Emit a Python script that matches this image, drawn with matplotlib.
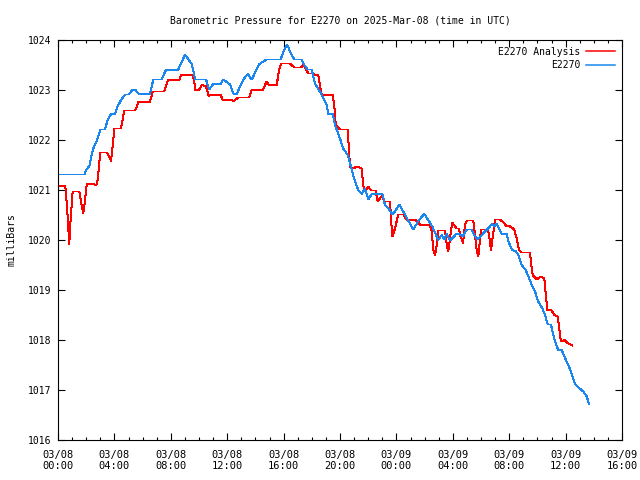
import matplotlib
matplotlib.use('Agg')
import numpy as np
from matplotlib import pyplot as plt
from matplotlib.ticker import MultipleLocator

## Data - hours since 2025-03-08 00:00 UTC, pressure in mbar
analysis_hours = [0.05, 0.52, 0.64, 0.71, 0.80, 0.90, 1.04, 1.51, 1.65, 1.79, 1.89, 2.04, 2.53, 2.70, 2.82,
                  2.89, 3.00, 3.45, 3.64, 3.76, 3.88, 3.99, 4.47, 4.70, 5.48, 5.70, 6.52, 6.72, 7.54, 7.78,
                  8.01, 8.60, 8.72, 9.55, 9.65, 9.74, 10.02, 10.21, 10.50, 10.69, 10.78, 11.54, 11.68, 12.32,
                  12.43, 12.79, 13.55, 13.74, 14.52, 14.80, 14.96, 15.51, 15.70, 15.82, 16.10, 16.45, 16.76,
                  17.23, 17.40, 17.57, 17.75, 18.11, 18.18, 18.46, 18.58, 18.70, 19.48, 19.60, 19.70, 20.00,
                  20.55, 20.59, 20.71, 20.87, 21.26, 21.54, 21.65, 21.82, 22.01, 22.20, 22.53, 22.67, 22.96,
                  23.14, 23.55, 23.62, 23.71, 23.90, 24.13, 24.49, 24.73, 25.32, 25.55, 25.67, 26.38, 26.50,
                  26.62, 26.74, 26.86, 26.97, 27.45, 27.57, 27.68, 27.80, 27.96, 28.16, 28.28, 28.44, 28.53,
                  28.63, 28.72, 28.87, 28.99, 29.45, 29.57, 29.69, 29.81, 29.93, 30.00, 30.48, 30.57, 30.71,
                  30.80, 30.90, 30.99, 31.35, 31.58, 31.82, 32.06, 32.36, 32.53, 32.70, 32.89, 33.48, 33.55,
                  33.67, 33.95, 34.26, 34.49, 34.59, 34.70, 35.01, 35.20, 35.44, 35.53, 35.67, 35.91, 36.19,
                  36.47]
analysis_mbar = [1021.08, 1021.08, 1020.67, 1020.35, 1019.92, 1020.43, 1020.97, 1020.97, 1020.73, 1020.53,
                 1020.73, 1021.12, 1021.12, 1021.09, 1021.20, 1021.43, 1021.75, 1021.75, 1021.67, 1021.58,
                 1021.88, 1022.23, 1022.23, 1022.59, 1022.59, 1022.76, 1022.76, 1022.97, 1022.97, 1023.19,
                 1023.21, 1023.20, 1023.30, 1023.30, 1023.20, 1022.99, 1023.01, 1023.10, 1023.07, 1022.87,
                 1022.90, 1022.90, 1022.80, 1022.80, 1022.77, 1022.85, 1022.85, 1023.00, 1023.00, 1023.17,
                 1023.10, 1023.10, 1023.43, 1023.53, 1023.53, 1023.53, 1023.45, 1023.45, 1023.50, 1023.43,
                 1023.33, 1023.33, 1023.30, 1023.30, 1023.10, 1022.90, 1022.90, 1022.67, 1022.30, 1022.21,
                 1022.21, 1022.00, 1021.47, 1021.43, 1021.47, 1021.43, 1021.07, 1021.00, 1021.07, 1020.99,
                 1020.99, 1020.77, 1020.88, 1020.77, 1020.77, 1020.40, 1020.07, 1020.23, 1020.51, 1020.51,
                 1020.40, 1020.40, 1020.37, 1020.30, 1020.30, 1020.17, 1019.80, 1019.70, 1019.90, 1020.19,
                 1020.19, 1019.90, 1019.77, 1020.03, 1020.35, 1020.27, 1020.23, 1020.23, 1020.07, 1020.03,
                 1019.93, 1020.30, 1020.39, 1020.39, 1020.13, 1019.80, 1019.68, 1020.00, 1020.21, 1020.21,
                 1020.10, 1019.79, 1020.00, 1020.20, 1020.41, 1020.41, 1020.35, 1020.28, 1020.27, 1020.21,
                 1020.03, 1019.80, 1019.75, 1019.75, 1019.53, 1019.30, 1019.21, 1019.27, 1019.23, 1018.93,
                 1018.60, 1018.59, 1018.50, 1018.47, 1018.27, 1017.97, 1018.00, 1017.93, 1017.89]

station_hours = [0.05, 1.87, 1.99, 2.22, 2.39, 2.50, 2.70, 2.89, 3.00, 3.33, 3.52, 3.76, 4.04, 4.23, 4.47,
                 4.75, 5.01, 5.30, 5.53, 5.72, 6.52, 6.76, 7.33, 7.66, 8.53, 9.01, 9.48, 9.65, 9.72, 10.50,
                 10.71, 11.01, 11.54, 11.72, 12.20, 12.43, 12.67, 13.14, 13.45, 13.74, 14.28, 14.80, 15.79,
                 16.03, 16.26, 16.45, 16.76, 17.28, 17.47, 17.71, 17.99, 18.23, 18.65, 19.06, 19.17, 19.48,
                 19.65, 20.00, 20.23, 20.55, 20.87, 21.06, 21.30, 21.54, 21.77, 22.01, 22.25, 23.00, 23.19,
                 23.43, 23.71, 23.90, 24.21, 24.80, 25.20, 25.60, 25.98, 26.55, 26.97, 27.21, 27.40, 27.57,
                 27.80, 28.28, 28.74, 28.99, 29.34, 29.57, 29.77, 30.28, 30.64, 30.76, 30.94, 31.11, 31.47,
                 31.82, 31.94, 32.22, 32.45, 32.65, 32.89, 33.17, 33.36, 33.60, 33.83, 34.06, 34.35, 34.54,
                 34.73, 34.96, 35.13, 35.30, 35.48, 35.72, 35.91, 36.19, 36.43, 36.67, 36.95, 37.26, 37.50,
                 37.66]
station_mbar = [1021.31, 1021.31, 1021.40, 1021.48, 1021.70, 1021.83, 1021.95, 1022.10, 1022.21, 1022.21,
                1022.40, 1022.52, 1022.52, 1022.67, 1022.80, 1022.91, 1022.91, 1023.01, 1022.99, 1022.92,
                1022.92, 1023.21, 1023.21, 1023.40, 1023.41, 1023.71, 1023.52, 1023.33, 1023.21, 1023.21,
                1023.01, 1023.12, 1023.12, 1023.21, 1023.11, 1022.93, 1022.92, 1023.21, 1023.32, 1023.21,
                1023.52, 1023.61, 1023.61, 1023.80, 1023.91, 1023.77, 1023.61, 1023.61, 1023.50, 1023.41,
                1023.41, 1023.13, 1022.93, 1022.70, 1022.52, 1022.52, 1022.30, 1022.03, 1021.83, 1021.70,
                1021.37, 1021.17, 1021.00, 1020.92, 1021.03, 1020.81, 1020.92, 1020.92, 1020.70, 1020.63,
                1020.52, 1020.57, 1020.71, 1020.41, 1020.21, 1020.40, 1020.52, 1020.27, 1020.00, 1020.10,
                1020.01, 1020.12, 1019.99, 1020.13, 1020.08, 1020.21, 1020.21, 1020.08, 1020.01, 1020.17,
                1020.27, 1020.32, 1020.27, 1020.32, 1020.12, 1020.12, 1019.97, 1019.80, 1019.78, 1019.70,
                1019.50, 1019.40, 1019.27, 1019.10, 1018.97, 1018.77, 1018.63, 1018.50, 1018.31, 1018.31,
                1018.10, 1017.93, 1017.80, 1017.80, 1017.67, 1017.50, 1017.33, 1017.12, 1017.04, 1016.97,
                1016.87, 1016.72]

tick_hours = [0, 4, 8, 12, 16, 20, 24, 28, 32, 36, 40]
tick_labels = ['03/08\n00:00', '03/08\n04:00', '03/08\n08:00', '03/08\n12:00', '03/08\n16:00',
               '03/08\n20:00', '03/09\n00:00', '03/09\n04:00', '03/09\n08:00', '03/09\n12:00',
               '03/09\n16:00']

plt.rcParams['font.family'] = 'DejaVu Sans Mono'
plt.rcParams['font.size'] = 7

fig = plt.figure(figsize=(6.4, 4.8), dpi=100)
ax = fig.add_axes([58/640, 40/480, 564/640, 400/480])

ax.plot(analysis_hours, analysis_mbar, color='#ff0000', lw=0.72, antialiased=False, label='E2270 Analysis')
ax.plot(station_hours, station_mbar, color='#1a87f0', lw=0.72, antialiased=False, label='E2270')

ax.set_xlim(0, 40)
ax.set_ylim(1016, 1024)
ax.set_xticks(tick_hours)
ax.set_xticklabels(tick_labels, fontsize=7.5)
ax.xaxis.set_minor_locator(MultipleLocator(1))
ax.set_yticks(np.arange(1016, 1025, 1))
ax.tick_params(which='both', direction='in', top=True, right=True, width=0.8)
ax.tick_params(which='major', length=5)
ax.tick_params(axis='x', which='major', pad=7)
ax.tick_params(axis='y', which='major', pad=5)
ax.tick_params(which='minor', length=2.5)
for s in ax.spines.values():
    s.set_linewidth(0.8)

ax.set_title('Barometric Pressure for E2270 on 2025-Mar-08 (time in UTC)', fontsize=7, pad=12)
ax.set_ylabel('milliBars', labelpad=8)

leg = ax.legend(loc='upper right', frameon=False, markerfirst=False, handlelength=3.0,
                handletextpad=0.6, labelspacing=0.35, borderaxespad=0.3)
for line in leg.get_lines():
    line.set_linewidth(1.1)
    line.set_antialiased(True)

fig.savefig('out.png', dpi=100)
